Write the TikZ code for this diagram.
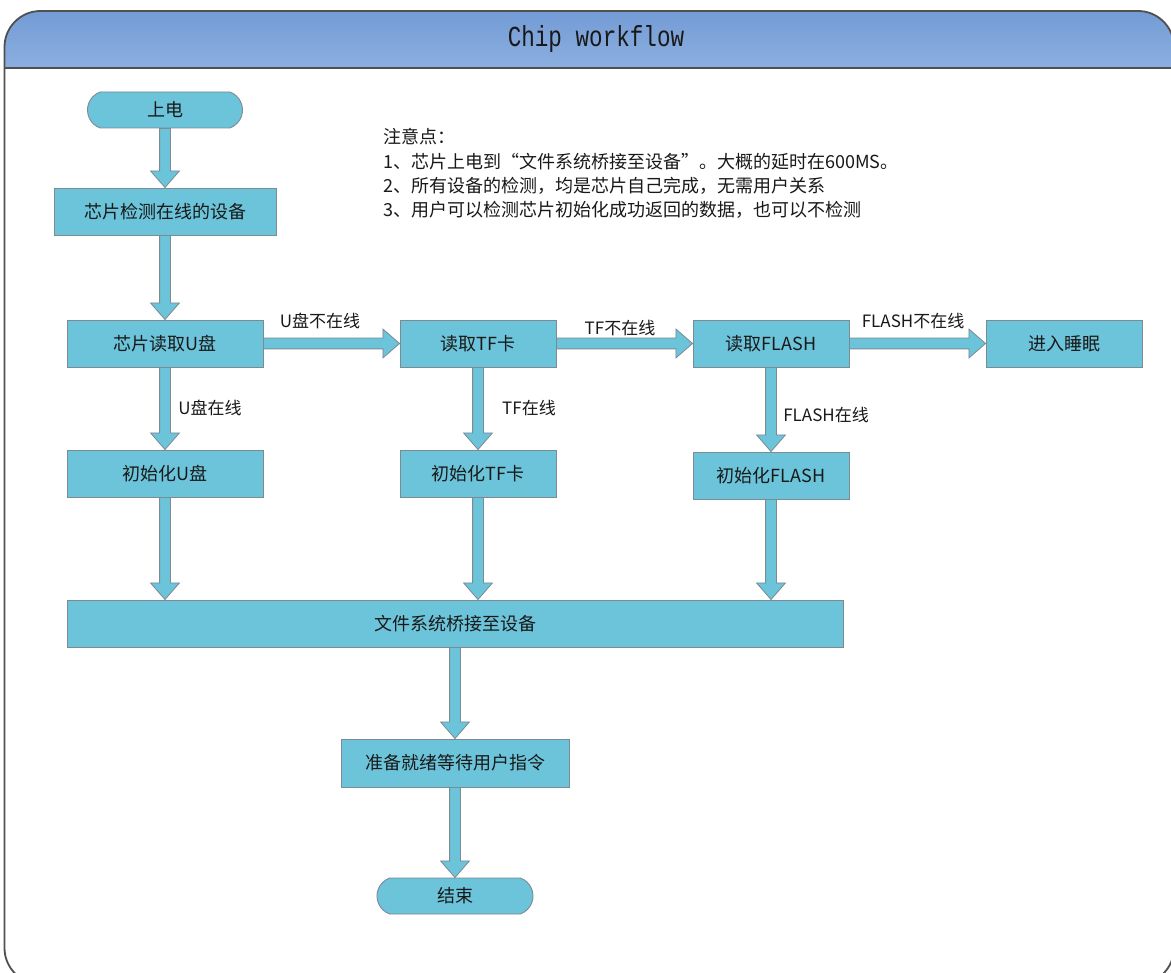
\documentclass[tikz,border=0pt]{standalone}
\usepackage{fontspec}
\setmainfont{Noto Sans CJK SC}
\newfontfamily\titlefont[FakeStretch=0.78]{Liberation Mono}
\usetikzlibrary{shapes.arrows,shapes.misc,calc}
\definecolor{boxfill}{RGB}{107,196,218}
\definecolor{edgegray}{RGB}{125,138,146}
\definecolor{headtop}{RGB}{110,151,210}
\definecolor{headbot}{RGB}{140,175,225}
\definecolor{framec}{RGB}{80,80,80}
\definecolor{txt}{RGB}{25,25,25}
\tikzset{
  box/.style={rectangle, draw=edgegray, fill=boxfill, line width=0.9pt, inner sep=0pt,
    text=txt, font=\fontsize{18}{22}\selectfont},
  term/.style={rounded rectangle, rounded rectangle arc length=140, draw=edgegray, fill=boxfill,
    line width=0.9pt, inner sep=0pt, text=txt, font=\fontsize{18}{22}\selectfont},
  lbl/.style={text=txt, font=\fontsize{17}{20}\selectfont, inner sep=0pt},
  blockarrow/.style={single arrow, draw=edgegray, fill=boxfill, line width=0.8pt,
    inner xsep=0pt, inner ysep=5pt,
    outer sep=0pt, minimum width=28pt, single arrow head extend=9pt, single arrow tip angle=82,
    single arrow head indent=0pt},
  barrow/.style={to path={
    let \p1=(\tikztostart), \p2=(\tikztotarget),
        \n1={atan2(\y2-\y1,\x2-\x1)}, \n2={veclen(\x2-\x1,\y2-\y1)}
    in node[blockarrow, minimum height=\n2, rotate=\n1, anchor=tail] at (\p1) {}
  }}
}
\begin{document}
\begin{tikzpicture}[x=1pt,y=-1pt]
\useasboundingbox (0,0) rectangle (1171,973);
\fill[white] (0,0) rectangle (1171,973);
% frame and header
\begin{scope}
  \clip[rounded corners=36pt] (4.5,11) rectangle (1174,984);
  \shade[top color=headtop, bottom color=headbot] (0,0) rectangle (1180,68);
\end{scope}
\draw[framec, line width=1.8pt, rounded corners=36pt] (4.5,11) rectangle (1174,984);
\draw[framec, line width=1.8pt] (4.5,68) -- (1174,68);
\node[text=txt, font=\titlefont\fontsize{29}{32}\selectfont] (title) at (596,39) {Chip workflow};

% nodes
\node[term, minimum width=155pt, minimum height=36pt] (start) at (165,110) {上电};
\node[box, minimum width=222pt, minimum height=47pt] (detect) at (165,211.5) {芯片检测在线的设备};
\node[box, minimum width=196pt, minimum height=47pt] (readU) at (165,343.5) {芯片读取U盘};
\node[box, minimum width=156pt, minimum height=47pt] (readTF) at (478,343.5) {读取TF卡};
\node[box, minimum width=156pt, minimum height=47pt] (readF) at (771,343.5) {读取FLASH};
\node[box, minimum width=156pt, minimum height=47pt] (sleep) at (1064,343.5) {进入睡眠};
\node[box, minimum width=196pt, minimum height=47pt] (initU) at (165,473.5) {初始化U盘};
\node[box, minimum width=156pt, minimum height=47pt] (initTF) at (478,473.5) {初始化TF卡};
\node[box, minimum width=156pt, minimum height=47pt] (initF) at (771,475.5) {初始化FLASH};
\node[box, minimum width=776pt, minimum height=47pt] (fs) at (455,623.5) {文件系统桥接至设备};
\node[box, minimum width=228pt, minimum height=48pt] (ready) at (455,763) {准备就绪等待用户指令};
\node[term, minimum width=156pt, minimum height=36pt] (end) at (455,896) {结束};

% notes
\node[lbl, anchor=north west, align=left, font=\fontsize{18}{24.3}\selectfont] (notes) at (383,128.5)
  {注意点：\\
   1、芯片上电到{\addfontfeature{CharacterWidth=Full}“}文件系统桥接至设备{\addfontfeature{CharacterWidth=Full}”}。大概的延时在600MS。\\
   2、所有设备的检测，均是芯片自己完成，无需用户关系\\
   3、用户可以检测芯片初始化成功返回的数据，也可以不检测};

% arrows
\path (start.south) to[barrow] (detect.north);
\path (detect.south) to[barrow] (readU.north);
\path (readU.east) to[barrow] (readTF.west);
\path (readTF.east) to[barrow] (readF.west);
\path (readF.east) to[barrow] (sleep.west);
\path (readU.south) to[barrow] (initU.north);
\path (readTF.south) to[barrow] (initTF.north);
\path (readF.south) to[barrow] (initF.north);
\path (initU.south) to[barrow] (initU.south |- fs.north);
\path (initTF.south) to[barrow] (initTF.south |- fs.north);
\path (initF.south) to[barrow] (initF.south |- fs.north);
\path (fs.south) to[barrow] (ready.north);
\path (ready.south) to[barrow] (end.north);

% labels
\node[lbl] (lUoff) at (320,321) {U盘不在线};
\node[lbl] (lTFoff) at (620,328) {TF不在线};
\node[lbl] (lFoff) at (913,321) {FLASH不在线};
\node[lbl] (lUon) at (210,408) {U盘在线};
\node[lbl] (lTFon) at (529,408) {TF在线};
\node[lbl] (lFon) at (826,415) {FLASH在线};
\end{tikzpicture}
\end{document}
